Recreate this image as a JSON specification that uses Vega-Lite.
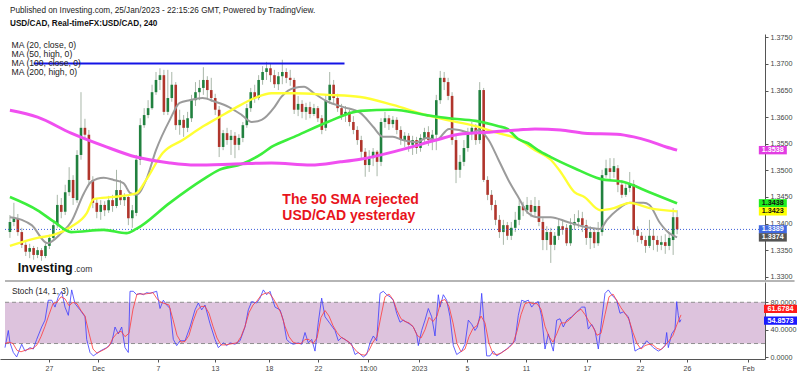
{
"$schema":"https://vega.github.io/schema/vega-lite/v6.json",
"padding":{"left":0,"top":6,"right":0,"bottom":0},
"background":"white",
"bounds":"flush",
"spacing":1,
"resolve":{"scale":{"color":"independent","fill":"independent","strokeWidth":"independent"},"legend":{"color":"independent"}},
"config":{"font":"Liberation Sans","view":{"stroke":null},
 "axis":{"labelFont":"Liberation Sans","grid":false,"domainColor":"#555","tickColor":"#555","labelColor":"#444","labelFontSize":7.2,"tickSize":3,"labelPadding":2,"labelOverlap":false,"labelFlush":false},
 "legend":{"labelFont":"Liberation Sans","titleFont":"Liberation Sans"}},
"title":{"text":"Published on Investing.com, 25/Jan/2023 - 22:15:26 GMT, Powered by TradingView.","subtitle":"USD/CAD, Real-timeFX:USD/CAD, 240","anchor":"start","frame":"group","dx":10,"offset":5,"fontSize":8.2,"fontWeight":"normal","color":"#222","subtitleFontSize":8.2,"subtitleFontWeight":"bold","subtitleColor":"#111","subtitlePadding":5,"font":"Liberation Sans","subtitleFont":"Liberation Sans"},
"datasets":{
"candles":[
{"t":0,"o":1.3384,"h":1.3416,"l":1.3373,"c":1.3403},
{"t":1,"o":1.3403,"h":1.3439,"l":1.3395,"c":1.3410},
{"t":2,"o":1.3410,"h":1.3418,"l":1.3377,"c":1.3384},
{"t":3,"o":1.3384,"h":1.3392,"l":1.3354,"c":1.3360},
{"t":4,"o":1.3360,"h":1.3365,"l":1.3339,"c":1.3347},
{"t":5,"o":1.3347,"h":1.3362,"l":1.3335,"c":1.3354},
{"t":6,"o":1.3354,"h":1.3358,"l":1.3332,"c":1.3341},
{"t":7,"o":1.3341,"h":1.3356,"l":1.3335,"c":1.3350},
{"t":8,"o":1.3350,"h":1.3354,"l":1.3330,"c":1.3339},
{"t":9,"o":1.3339,"h":1.3362,"l":1.3335,"c":1.3358},
{"t":10,"o":1.3358,"h":1.3379,"l":1.3352,"c":1.3373},
{"t":11,"o":1.3373,"h":1.3403,"l":1.3369,"c":1.3397},
{"t":12,"o":1.3397,"h":1.3454,"l":1.3392,"c":1.3435},
{"t":13,"o":1.3435,"h":1.3448,"l":1.3410,"c":1.3422},
{"t":14,"o":1.3422,"h":1.3473,"l":1.3416,"c":1.3459},
{"t":15,"o":1.3459,"h":1.3506,"l":1.3452,"c":1.3482},
{"t":16,"o":1.3482,"h":1.3491,"l":1.3435,"c":1.3448},
{"t":17,"o":1.3444,"h":1.3538,"l":1.3439,"c":1.3529},
{"t":18,"o":1.3529,"h":1.3647,"l":1.3520,"c":1.3580},
{"t":19,"o":1.3580,"h":1.3597,"l":1.3557,"c":1.3567},
{"t":20,"o":1.3567,"h":1.3576,"l":1.3473,"c":1.3482},
{"t":21,"o":1.3482,"h":1.3489,"l":1.3429,"c":1.3439},
{"t":22,"o":1.3439,"h":1.3448,"l":1.3410,"c":1.3422},
{"t":23,"o":1.3422,"h":1.3444,"l":1.3407,"c":1.3435},
{"t":24,"o":1.3435,"h":1.3442,"l":1.3414,"c":1.3425},
{"t":25,"o":1.3425,"h":1.3452,"l":1.3420,"c":1.3444},
{"t":26,"o":1.3444,"h":1.3454,"l":1.3422,"c":1.3433},
{"t":27,"o":1.3433,"h":1.3501,"l":1.3429,"c":1.3463},
{"t":28,"o":1.3463,"h":1.3482,"l":1.3435,"c":1.3444},
{"t":29,"o":1.3444,"h":1.3457,"l":1.3433,"c":1.3450},
{"t":30,"o":1.3450,"h":1.3454,"l":1.3397,"c":1.3410},
{"t":31,"o":1.3410,"h":1.3435,"l":1.3392,"c":1.3425},
{"t":32,"o":1.3420,"h":1.3529,"l":1.3414,"c":1.3520},
{"t":33,"o":1.3520,"h":1.3598,"l":1.3510,"c":1.3585},
{"t":34,"o":1.3585,"h":1.3617,"l":1.3580,"c":1.3604},
{"t":35,"o":1.3604,"h":1.3632,"l":1.3598,"c":1.3617},
{"t":36,"o":1.3617,"h":1.3661,"l":1.3614,"c":1.3647},
{"t":37,"o":1.3647,"h":1.3685,"l":1.3642,"c":1.3670},
{"t":38,"o":1.3670,"h":1.3692,"l":1.3651,"c":1.3679},
{"t":39,"o":1.3679,"h":1.3689,"l":1.3604,"c":1.3610},
{"t":40,"o":1.3610,"h":1.3689,"l":1.3604,"c":1.3636},
{"t":41,"o":1.3636,"h":1.3685,"l":1.3629,"c":1.3661},
{"t":42,"o":1.3661,"h":1.3666,"l":1.3576,"c":1.3585},
{"t":43,"o":1.3585,"h":1.3614,"l":1.3567,"c":1.3595},
{"t":44,"o":1.3595,"h":1.3604,"l":1.3563,"c":1.3580},
{"t":45,"o":1.3580,"h":1.3610,"l":1.3572,"c":1.3598},
{"t":46,"o":1.3598,"h":1.3642,"l":1.3591,"c":1.3632},
{"t":47,"o":1.3632,"h":1.3666,"l":1.3621,"c":1.3647},
{"t":48,"o":1.3647,"h":1.3670,"l":1.3632,"c":1.3655},
{"t":49,"o":1.3655,"h":1.3694,"l":1.3642,"c":1.3670},
{"t":50,"o":1.3670,"h":1.3677,"l":1.3636,"c":1.3651},
{"t":51,"o":1.3651,"h":1.3674,"l":1.3629,"c":1.3636},
{"t":52,"o":1.3636,"h":1.3644,"l":1.3604,"c":1.3614},
{"t":53,"o":1.3614,"h":1.3621,"l":1.3525,"c":1.3544},
{"t":54,"o":1.3544,"h":1.3576,"l":1.3538,"c":1.3570},
{"t":55,"o":1.3570,"h":1.3580,"l":1.3548,"c":1.3557},
{"t":56,"o":1.3557,"h":1.3576,"l":1.3529,"c":1.3565},
{"t":57,"o":1.3565,"h":1.3572,"l":1.3523,"c":1.3548},
{"t":58,"o":1.3548,"h":1.3568,"l":1.3538,"c":1.3561},
{"t":59,"o":1.3561,"h":1.3591,"l":1.3553,"c":1.3585},
{"t":60,"o":1.3585,"h":1.3625,"l":1.3580,"c":1.3617},
{"t":61,"o":1.3617,"h":1.3655,"l":1.3610,"c":1.3647},
{"t":62,"o":1.3647,"h":1.3661,"l":1.3627,"c":1.3636},
{"t":63,"o":1.3636,"h":1.3679,"l":1.3632,"c":1.3670},
{"t":64,"o":1.3670,"h":1.3696,"l":1.3661,"c":1.3685},
{"t":65,"o":1.3685,"h":1.3704,"l":1.3670,"c":1.3692},
{"t":66,"o":1.3692,"h":1.3702,"l":1.3666,"c":1.3679},
{"t":67,"o":1.3679,"h":1.3689,"l":1.3655,"c":1.3662},
{"t":68,"o":1.3662,"h":1.3685,"l":1.3651,"c":1.3677},
{"t":69,"o":1.3677,"h":1.3708,"l":1.3662,"c":1.3685},
{"t":70,"o":1.3685,"h":1.3692,"l":1.3664,"c":1.3674},
{"t":71,"o":1.3674,"h":1.3689,"l":1.3659,"c":1.3670},
{"t":72,"o":1.3670,"h":1.3674,"l":1.3606,"c":1.3614},
{"t":73,"o":1.3614,"h":1.3640,"l":1.3602,"c":1.3625},
{"t":74,"o":1.3625,"h":1.3632,"l":1.3598,"c":1.3610},
{"t":75,"o":1.3610,"h":1.3627,"l":1.3595,"c":1.3619},
{"t":76,"o":1.3619,"h":1.3629,"l":1.3598,"c":1.3606},
{"t":77,"o":1.3606,"h":1.3625,"l":1.3602,"c":1.3617},
{"t":78,"o":1.3617,"h":1.3621,"l":1.3591,"c":1.3598},
{"t":79,"o":1.3598,"h":1.3604,"l":1.3568,"c":1.3576},
{"t":80,"o":1.3580,"h":1.3642,"l":1.3574,"c":1.3632},
{"t":81,"o":1.3632,"h":1.3685,"l":1.3625,"c":1.3661},
{"t":82,"o":1.3661,"h":1.3670,"l":1.3625,"c":1.3636},
{"t":83,"o":1.3636,"h":1.3644,"l":1.3610,"c":1.3617},
{"t":84,"o":1.3617,"h":1.3625,"l":1.3595,"c":1.3604},
{"t":85,"o":1.3604,"h":1.3621,"l":1.3591,"c":1.3610},
{"t":86,"o":1.3610,"h":1.3614,"l":1.3583,"c":1.3591},
{"t":87,"o":1.3591,"h":1.3602,"l":1.3568,"c":1.3576},
{"t":88,"o":1.3576,"h":1.3583,"l":1.3548,"c":1.3557},
{"t":89,"o":1.3557,"h":1.3565,"l":1.3523,"c":1.3535},
{"t":90,"o":1.3535,"h":1.3542,"l":1.3488,"c":1.3510},
{"t":91,"o":1.3510,"h":1.3538,"l":1.3497,"c":1.3523},
{"t":92,"o":1.3523,"h":1.3542,"l":1.3508,"c":1.3535},
{"t":93,"o":1.3535,"h":1.3538,"l":1.3489,"c":1.3516},
{"t":94,"o":1.3516,"h":1.3598,"l":1.3508,"c":1.3591},
{"t":95,"o":1.3591,"h":1.3610,"l":1.3580,"c":1.3598},
{"t":96,"o":1.3598,"h":1.3604,"l":1.3576,"c":1.3587},
{"t":97,"o":1.3587,"h":1.3602,"l":1.3580,"c":1.3595},
{"t":98,"o":1.3595,"h":1.3600,"l":1.3568,"c":1.3576},
{"t":99,"o":1.3576,"h":1.3583,"l":1.3548,"c":1.3557},
{"t":100,"o":1.3557,"h":1.3572,"l":1.3544,"c":1.3565},
{"t":101,"o":1.3565,"h":1.3570,"l":1.3535,"c":1.3548},
{"t":102,"o":1.3548,"h":1.3565,"l":1.3529,"c":1.3557},
{"t":103,"o":1.3557,"h":1.3563,"l":1.3531,"c":1.3542},
{"t":104,"o":1.3542,"h":1.3568,"l":1.3535,"c":1.3561},
{"t":105,"o":1.3561,"h":1.3580,"l":1.3553,"c":1.3572},
{"t":106,"o":1.3572,"h":1.3583,"l":1.3546,"c":1.3557},
{"t":107,"o":1.3557,"h":1.3576,"l":1.3538,"c":1.3567},
{"t":108,"o":1.3567,"h":1.3642,"l":1.3538,"c":1.3632},
{"t":109,"o":1.3632,"h":1.3687,"l":1.3625,"c":1.3674},
{"t":110,"o":1.3674,"h":1.3685,"l":1.3651,"c":1.3666},
{"t":111,"o":1.3666,"h":1.3674,"l":1.3632,"c":1.3640},
{"t":112,"o":1.3640,"h":1.3647,"l":1.3548,"c":1.3557},
{"t":113,"o":1.3557,"h":1.3565,"l":1.3476,"c":1.3501},
{"t":114,"o":1.3501,"h":1.3529,"l":1.3486,"c":1.3516},
{"t":115,"o":1.3516,"h":1.3557,"l":1.3508,"c":1.3542},
{"t":116,"o":1.3542,"h":1.3580,"l":1.3535,"c":1.3572},
{"t":117,"o":1.3572,"h":1.3591,"l":1.3557,"c":1.3580},
{"t":118,"o":1.3580,"h":1.3587,"l":1.3548,"c":1.3557},
{"t":119,"o":1.3557,"h":1.3666,"l":1.3550,"c":1.3651},
{"t":120,"o":1.3651,"h":1.3655,"l":1.3478,"c":1.3482},
{"t":121,"o":1.3482,"h":1.3489,"l":1.3444,"c":1.3454},
{"t":122,"o":1.3454,"h":1.3463,"l":1.3425,"c":1.3435},
{"t":123,"o":1.3435,"h":1.3444,"l":1.3397,"c":1.3407},
{"t":124,"o":1.3407,"h":1.3416,"l":1.3373,"c":1.3384},
{"t":125,"o":1.3384,"h":1.3407,"l":1.3360,"c":1.3397},
{"t":126,"o":1.3397,"h":1.3403,"l":1.3369,"c":1.3377},
{"t":127,"o":1.3377,"h":1.3403,"l":1.3369,"c":1.3392},
{"t":128,"o":1.3392,"h":1.3422,"l":1.3384,"c":1.3407},
{"t":129,"o":1.3407,"h":1.3444,"l":1.3397,"c":1.3433},
{"t":130,"o":1.3433,"h":1.3441,"l":1.3414,"c":1.3425},
{"t":131,"o":1.3425,"h":1.3450,"l":1.3418,"c":1.3435},
{"t":132,"o":1.3435,"h":1.3444,"l":1.3412,"c":1.3422},
{"t":133,"o":1.3422,"h":1.3450,"l":1.3414,"c":1.3433},
{"t":134,"o":1.3433,"h":1.3444,"l":1.3395,"c":1.3403},
{"t":135,"o":1.3403,"h":1.3410,"l":1.3350,"c":1.3369},
{"t":136,"o":1.3369,"h":1.3395,"l":1.3350,"c":1.3384},
{"t":137,"o":1.3384,"h":1.3392,"l":1.3326,"c":1.3360},
{"t":138,"o":1.3360,"h":1.3384,"l":1.3350,"c":1.3377},
{"t":139,"o":1.3377,"h":1.3410,"l":1.3369,"c":1.3395},
{"t":140,"o":1.3395,"h":1.3407,"l":1.3379,"c":1.3388},
{"t":141,"o":1.3392,"h":1.3399,"l":1.3358,"c":1.3363},
{"t":142,"o":1.3363,"h":1.3410,"l":1.3358,"c":1.3397},
{"t":143,"o":1.3397,"h":1.3418,"l":1.3388,"c":1.3403},
{"t":144,"o":1.3403,"h":1.3425,"l":1.3392,"c":1.3410},
{"t":145,"o":1.3410,"h":1.3422,"l":1.3384,"c":1.3397},
{"t":146,"o":1.3397,"h":1.3407,"l":1.3360,"c":1.3373},
{"t":147,"o":1.3373,"h":1.3395,"l":1.3352,"c":1.3384},
{"t":148,"o":1.3384,"h":1.3392,"l":1.3354,"c":1.3363},
{"t":149,"o":1.3363,"h":1.3403,"l":1.3358,"c":1.3384},
{"t":150,"o":1.3384,"h":1.3501,"l":1.3377,"c":1.3491},
{"t":151,"o":1.3491,"h":1.3520,"l":1.3486,"c":1.3504},
{"t":152,"o":1.3504,"h":1.3523,"l":1.3482,"c":1.3497},
{"t":153,"o":1.3497,"h":1.3523,"l":1.3486,"c":1.3508},
{"t":154,"o":1.3504,"h":1.3510,"l":1.3459,"c":1.3473},
{"t":155,"o":1.3473,"h":1.3482,"l":1.3448,"c":1.3454},
{"t":156,"o":1.3454,"h":1.3474,"l":1.3450,"c":1.3467},
{"t":157,"o":1.3467,"h":1.3497,"l":1.3459,"c":1.3474},
{"t":158,"o":1.3474,"h":1.3482,"l":1.3379,"c":1.3388},
{"t":159,"o":1.3388,"h":1.3395,"l":1.3365,"c":1.3377},
{"t":160,"o":1.3377,"h":1.3384,"l":1.3362,"c":1.3369},
{"t":161,"o":1.3369,"h":1.3377,"l":1.3345,"c":1.3358},
{"t":162,"o":1.3358,"h":1.3407,"l":1.3354,"c":1.3377},
{"t":163,"o":1.3377,"h":1.3388,"l":1.3350,"c":1.3369},
{"t":164,"o":1.3369,"h":1.3377,"l":1.3347,"c":1.3360},
{"t":165,"o":1.3360,"h":1.3377,"l":1.3350,"c":1.3365},
{"t":166,"o":1.3365,"h":1.3380,"l":1.3343,"c":1.3358},
{"t":167,"o":1.3358,"h":1.3384,"l":1.3350,"c":1.3373},
{"t":168,"o":1.3369,"h":1.3429,"l":1.3341,"c":1.3412},
{"t":169,"o":1.3412,"h":1.3425,"l":1.3380,"c":1.3389}
],
"ma":[
{"m":"MA20","t":0,"v":1.3412},{"m":"MA20","t":3,"v":1.3407},{"m":"MA20","t":5.5,"v":1.3397},{"m":"MA20","t":9.5,"v":1.3363},{"m":"MA20","t":13,"v":1.3382},{"m":"MA20","t":15.5,"v":1.3403},{"m":"MA20","t":18.75,"v":1.3457},{"m":"MA20","t":20.5,"v":1.3478},{"m":"MA20","t":23.75,"v":1.3486},{"m":"MA20","t":26.25,"v":1.3482},{"m":"MA20","t":28.75,"v":1.3476},{"m":"MA20","t":30.5,"v":1.3457},{"m":"MA20","t":32,"v":1.3454},{"m":"MA20","t":34.5,"v":1.3482},{"m":"MA20","t":37,"v":1.3538},{"m":"MA20","t":40.5,"v":1.3595},{"m":"MA20","t":43,"v":1.3627},{"m":"MA20","t":45.5,"v":1.3632},{"m":"MA20","t":48.75,"v":1.3636},{"m":"MA20","t":52,"v":1.3629},{"m":"MA20","t":55.5,"v":1.3619},{"m":"MA20","t":58.75,"v":1.3604},{"m":"MA20","t":61.25,"v":1.3591},{"m":"MA20","t":63.75,"v":1.3595},{"m":"MA20","t":67,"v":1.3619},{"m":"MA20","t":68.75,"v":1.3638},{"m":"MA20","t":72,"v":1.3655},{"m":"MA20","t":74.5,"v":1.3657},{"m":"MA20","t":77,"v":1.3645},{"m":"MA20","t":80.5,"v":1.3629},{"m":"MA20","t":84.5,"v":1.3619},{"m":"MA20","t":88.75,"v":1.3608},{"m":"MA20","t":92,"v":1.3582},{"m":"MA20","t":94.5,"v":1.3563},{"m":"MA20","t":97,"v":1.3563},{"m":"MA20","t":99.5,"v":1.3557},{"m":"MA20","t":103,"v":1.3553},{"m":"MA20","t":105.5,"v":1.3561},{"m":"MA20","t":108,"v":1.3557},{"m":"MA20","t":111.25,"v":1.3578},{"m":"MA20","t":113.75,"v":1.3576},{"m":"MA20","t":117,"v":1.3570},{"m":"MA20","t":118.75,"v":1.3576},{"m":"MA20","t":121.25,"v":1.3557},{"m":"MA20","t":123.75,"v":1.3520},{"m":"MA20","t":126.25,"v":1.3482},{"m":"MA20","t":128.75,"v":1.3450},{"m":"MA20","t":131.25,"v":1.3420},{"m":"MA20","t":133.75,"v":1.3412},{"m":"MA20","t":137,"v":1.3412},{"m":"MA20","t":141.25,"v":1.3403},{"m":"MA20","t":145.5,"v":1.3394},{"m":"MA20","t":149.5,"v":1.3390},{"m":"MA20","t":151.25,"v":1.3407},{"m":"MA20","t":153.75,"v":1.3425},{"m":"MA20","t":157,"v":1.3439},{"m":"MA20","t":160.5,"v":1.3439},{"m":"MA20","t":162,"v":1.3435},{"m":"MA20","t":164.5,"v":1.3403},{"m":"MA20","t":167,"v":1.3382},{"m":"MA20","t":169,"v":1.3374},
{"m":"MA50","t":0,"v":1.3358},{"m":"MA50","t":7,"v":1.3373},{"m":"MA50","t":11.25,"v":1.3379},{"m":"MA50","t":15.5,"v":1.3394},{"m":"MA50","t":19.5,"v":1.3420},{"m":"MA50","t":21.25,"v":1.3446},{"m":"MA50","t":26.25,"v":1.3450},{"m":"MA50","t":32,"v":1.3457},{"m":"MA50","t":34.5,"v":1.3482},{"m":"MA50","t":38.75,"v":1.3533},{"m":"MA50","t":43.75,"v":1.3557},{"m":"MA50","t":48.75,"v":1.3582},{"m":"MA50","t":53,"v":1.3600},{"m":"MA50","t":57,"v":1.3617},{"m":"MA50","t":62,"v":1.3636},{"m":"MA50","t":66.25,"v":1.3645},{"m":"MA50","t":72,"v":1.3645},{"m":"MA50","t":80.5,"v":1.3642},{"m":"MA50","t":88.75,"v":1.3638},{"m":"MA50","t":97,"v":1.3623},{"m":"MA50","t":105.5,"v":1.3604},{"m":"MA50","t":110.5,"v":1.3595},{"m":"MA50","t":118,"v":1.3583},{"m":"MA50","t":123.75,"v":1.3570},{"m":"MA50","t":128.75,"v":1.3559},{"m":"MA50","t":133,"v":1.3538},{"m":"MA50","t":137,"v":1.3520},{"m":"MA50","t":139.5,"v":1.3497},{"m":"MA50","t":143,"v":1.3459},{"m":"MA50","t":145.5,"v":1.3450},{"m":"MA50","t":149.5,"v":1.3425},{"m":"MA50","t":153,"v":1.3429},{"m":"MA50","t":157,"v":1.3439},{"m":"MA50","t":162,"v":1.3429},{"m":"MA50","t":169,"v":1.3423},
{"m":"MA100","t":0,"v":1.3450},{"m":"MA100","t":7,"v":1.3425},{"m":"MA100","t":11.25,"v":1.3403},{"m":"MA100","t":15.5,"v":1.3384},{"m":"MA100","t":23.75,"v":1.3388},{"m":"MA100","t":29.5,"v":1.3382},{"m":"MA100","t":32,"v":1.3390},{"m":"MA100","t":40.5,"v":1.3439},{"m":"MA100","t":48.75,"v":1.3482},{"m":"MA100","t":53,"v":1.3501},{"m":"MA100","t":58.75,"v":1.3512},{"m":"MA100","t":63.75,"v":1.3531},{"m":"MA100","t":66.25,"v":1.3544},{"m":"MA100","t":72,"v":1.3563},{"m":"MA100","t":80.5,"v":1.3591},{"m":"MA100","t":88.75,"v":1.3612},{"m":"MA100","t":97,"v":1.3614},{"m":"MA100","t":105.5,"v":1.3604},{"m":"MA100","t":111.25,"v":1.3598},{"m":"MA100","t":118,"v":1.3593},{"m":"MA100","t":123.75,"v":1.3583},{"m":"MA100","t":126,"v":1.3578},{"m":"MA100","t":128.75,"v":1.3559},{"m":"MA100","t":131.25,"v":1.3551},{"m":"MA100","t":133.75,"v":1.3538},{"m":"MA100","t":137,"v":1.3525},{"m":"MA100","t":143,"v":1.3504},{"m":"MA100","t":149.5,"v":1.3484},{"m":"MA100","t":155.5,"v":1.3478},{"m":"MA100","t":162,"v":1.3459},{"m":"MA100","t":169,"v":1.3438},
{"m":"MA200","t":0,"v":1.3613},{"m":"MA200","t":7,"v":1.3600},{"m":"MA200","t":15.5,"v":1.3570},{"m":"MA200","t":23.75,"v":1.3546},{"m":"MA200","t":32,"v":1.3525},{"m":"MA200","t":40.5,"v":1.3514},{"m":"MA200","t":47,"v":1.3510},{"m":"MA200","t":57,"v":1.3512},{"m":"MA200","t":66.25,"v":1.3514},{"m":"MA200","t":76.25,"v":1.3510},{"m":"MA200","t":83.75,"v":1.3516},{"m":"MA200","t":88.75,"v":1.3521},{"m":"MA200","t":98.75,"v":1.3538},{"m":"MA200","t":108,"v":1.3557},{"m":"MA200","t":113.75,"v":1.3568},{"m":"MA200","t":122,"v":1.3572},{"m":"MA200","t":128.75,"v":1.3576},{"m":"MA200","t":133,"v":1.3578},{"m":"MA200","t":139.5,"v":1.3576},{"m":"MA200","t":145.5,"v":1.3570},{"m":"MA200","t":153.75,"v":1.3568},{"m":"MA200","t":158,"v":1.3563},{"m":"MA200","t":162,"v":1.3555},{"m":"MA200","t":166.25,"v":1.3544},{"m":"MA200","t":169,"v":1.3538}
],
"mlab":[{"k":"MA200","v":1.3538},{"k":"MA100","v":1.3438},{"k":"MA50","v":1.3423},{"k":"Last","v":1.3389},{"k":"MA20","v":1.3374}],
"stoch":[
{"s":"K","t":0,"v":14},{"s":"K","t":0.83,"v":39},{"s":"K","t":1.25,"v":21},{"s":"K","t":2.08,"v":7},{"s":"K","t":2.92,"v":0.5},{"s":"K","t":4.17,"v":19},{"s":"K","t":5,"v":9},{"s":"K","t":6.25,"v":14},{"s":"K","t":7.08,"v":12},{"s":"K","t":7.92,"v":26},{"s":"K","t":9.17,"v":44},{"s":"K","t":10,"v":54},{"s":"K","t":10.83,"v":83},{"s":"K","t":11.67,"v":83},{"s":"K","t":12.5,"v":73},{"s":"K","t":13.33,"v":88},{"s":"K","t":14.17,"v":96},{"s":"K","t":15,"v":73},{"s":"K","t":15.83,"v":61},{"s":"K","t":16.67,"v":98},{"s":"K","t":17.5,"v":78},{"s":"K","t":18.75,"v":69},{"s":"K","t":20,"v":59},{"s":"K","t":20.42,"v":26},{"s":"K","t":21.25,"v":7},{"s":"K","t":22.08,"v":2},{"s":"K","t":23.75,"v":9},{"s":"K","t":25.42,"v":14},{"s":"K","t":26.67,"v":21},{"s":"K","t":27.5,"v":44},{"s":"K","t":28.33,"v":34},{"s":"K","t":29.17,"v":44},{"s":"K","t":30,"v":14},{"s":"K","t":30.83,"v":7},{"s":"K","t":31.25,"v":96},{"s":"K","t":32.08,"v":96},{"s":"K","t":32.92,"v":91},{"s":"K","t":33.75,"v":93},{"s":"K","t":34.58,"v":91},{"s":"K","t":35.42,"v":94},{"s":"K","t":36.25,"v":93},{"s":"K","t":37.92,"v":96},{"s":"K","t":38.75,"v":71},{"s":"K","t":39.58,"v":83},{"s":"K","t":40.42,"v":76},{"s":"K","t":41.25,"v":71},{"s":"K","t":42.08,"v":26},{"s":"K","t":42.92,"v":17},{"s":"K","t":43.75,"v":24},{"s":"K","t":45,"v":24},{"s":"K","t":46.25,"v":44},{"s":"K","t":47.5,"v":69},{"s":"K","t":48.33,"v":79},{"s":"K","t":49.17,"v":69},{"s":"K","t":50,"v":76},{"s":"K","t":51.25,"v":49},{"s":"K","t":52.5,"v":26},{"s":"K","t":53.33,"v":14},{"s":"K","t":54.58,"v":21},{"s":"K","t":55.42,"v":17},{"s":"K","t":56.25,"v":21},{"s":"K","t":57.5,"v":19},{"s":"K","t":58.75,"v":24},{"s":"K","t":60,"v":44},{"s":"K","t":60.83,"v":69},{"s":"K","t":61.67,"v":81},{"s":"K","t":62.92,"v":79},{"s":"K","t":63.75,"v":86},{"s":"K","t":64.58,"v":98},{"s":"K","t":65.42,"v":91},{"s":"K","t":66.25,"v":96},{"s":"K","t":67.5,"v":73},{"s":"K","t":68.75,"v":69},{"s":"K","t":69.58,"v":54},{"s":"K","t":70.42,"v":26},{"s":"K","t":71.25,"v":21},{"s":"K","t":72.08,"v":19},{"s":"K","t":73.33,"v":21},{"s":"K","t":74.17,"v":19},{"s":"K","t":75,"v":36},{"s":"K","t":75.83,"v":21},{"s":"K","t":76.67,"v":26},{"s":"K","t":77.5,"v":9},{"s":"K","t":78.33,"v":51},{"s":"K","t":79.17,"v":86},{"s":"K","t":80,"v":59},{"s":"K","t":81.25,"v":49},{"s":"K","t":82.5,"v":39},{"s":"K","t":83.33,"v":24},{"s":"K","t":84.17,"v":29},{"s":"K","t":85.42,"v":24},{"s":"K","t":86.67,"v":19},{"s":"K","t":87.5,"v":4},{"s":"K","t":88.33,"v":7},{"s":"K","t":89.58,"v":0.5},{"s":"K","t":90.42,"v":4},{"s":"K","t":91.25,"v":21},{"s":"K","t":92.08,"v":31},{"s":"K","t":92.92,"v":24},{"s":"K","t":93.75,"v":93},{"s":"K","t":94.58,"v":96},{"s":"K","t":95.42,"v":91},{"s":"K","t":96.25,"v":88},{"s":"K","t":97.08,"v":83},{"s":"K","t":97.92,"v":64},{"s":"K","t":98.75,"v":51},{"s":"K","t":99.58,"v":54},{"s":"K","t":100.42,"v":51},{"s":"K","t":101.25,"v":48},{"s":"K","t":102.08,"v":44},{"s":"K","t":102.92,"v":34},{"s":"K","t":103.33,"v":17},{"s":"K","t":104.17,"v":39},{"s":"K","t":105,"v":54},{"s":"K","t":105.83,"v":71},{"s":"K","t":106.67,"v":59},{"s":"K","t":107.5,"v":31},{"s":"K","t":108.33,"v":91},{"s":"K","t":108.75,"v":73},{"s":"K","t":109.58,"v":91},{"s":"K","t":110.42,"v":83},{"s":"K","t":111.25,"v":59},{"s":"K","t":112.08,"v":17},{"s":"K","t":112.92,"v":4},{"s":"K","t":114.17,"v":9},{"s":"K","t":115,"v":19},{"s":"K","t":115.83,"v":54},{"s":"K","t":116.67,"v":48},{"s":"K","t":117.5,"v":39},{"s":"K","t":118.08,"v":44},{"s":"K","t":118.75,"v":61},{"s":"K","t":119.17,"v":93},{"s":"K","t":119.75,"v":51},{"s":"K","t":120.42,"v":2},{"s":"K","t":121.25,"v":2},{"s":"K","t":122.08,"v":9},{"s":"K","t":122.92,"v":2},{"s":"K","t":124.17,"v":7},{"s":"K","t":125.42,"v":12},{"s":"K","t":126.67,"v":19},{"s":"K","t":127.5,"v":24},{"s":"K","t":128.33,"v":61},{"s":"K","t":129.17,"v":83},{"s":"K","t":130,"v":81},{"s":"K","t":130.83,"v":83},{"s":"K","t":131.67,"v":73},{"s":"K","t":132.5,"v":79},{"s":"K","t":133.33,"v":81},{"s":"K","t":134.17,"v":59},{"s":"K","t":135,"v":12},{"s":"K","t":135.83,"v":34},{"s":"K","t":137.08,"v":9},{"s":"K","t":137.92,"v":54},{"s":"K","t":138.75,"v":56},{"s":"K","t":139.58,"v":44},{"s":"K","t":140.42,"v":54},{"s":"K","t":141.67,"v":59},{"s":"K","t":142.92,"v":66},{"s":"K","t":144.17,"v":73},{"s":"K","t":145,"v":73},{"s":"K","t":145.83,"v":41},{"s":"K","t":146.67,"v":48},{"s":"K","t":147.5,"v":39},{"s":"K","t":148.33,"v":12},{"s":"K","t":149.17,"v":54},{"s":"K","t":150,"v":93},{"s":"K","t":150.83,"v":98},{"s":"K","t":151.67,"v":91},{"s":"K","t":152.92,"v":83},{"s":"K","t":153.75,"v":64},{"s":"K","t":154.58,"v":66},{"s":"K","t":155.83,"v":59},{"s":"K","t":156.67,"v":39},{"s":"K","t":157.5,"v":9},{"s":"K","t":158.33,"v":12},{"s":"K","t":159.17,"v":14},{"s":"K","t":160.42,"v":24},{"s":"K","t":161.25,"v":19},{"s":"K","t":162.08,"v":14},{"s":"K","t":163.33,"v":9},{"s":"K","t":164.17,"v":12},{"s":"K","t":165,"v":17},{"s":"K","t":165.42,"v":36},{"s":"K","t":165.83,"v":14},{"s":"K","t":166.67,"v":34},{"s":"K","t":167.5,"v":41},{"s":"K","t":167.92,"v":81},{"s":"K","t":168.33,"v":61},{"s":"K","t":168.67,"v":51},{"s":"K","t":169,"v":54.8573},
{"s":"D","t":0,"v":20},{"s":"D","t":1,"v":22},{"s":"D","t":2,"v":20},{"s":"D","t":3,"v":10},{"s":"D","t":4,"v":8},{"s":"D","t":5,"v":10},{"s":"D","t":6,"v":12},{"s":"D","t":7,"v":13},{"s":"D","t":8,"v":18},{"s":"D","t":9,"v":30},{"s":"D","t":10,"v":45},{"s":"D","t":11,"v":62},{"s":"D","t":12,"v":78},{"s":"D","t":13,"v":80},{"s":"D","t":14,"v":88},{"s":"D","t":15,"v":85},{"s":"D","t":16,"v":75},{"s":"D","t":17,"v":80},{"s":"D","t":18,"v":78},{"s":"D","t":19,"v":68},{"s":"D","t":20,"v":60},{"s":"D","t":21,"v":35},{"s":"D","t":22,"v":12},{"s":"D","t":23,"v":6},{"s":"D","t":24,"v":9},{"s":"D","t":25,"v":12},{"s":"D","t":26,"v":16},{"s":"D","t":27,"v":28},{"s":"D","t":28,"v":35},{"s":"D","t":29,"v":38},{"s":"D","t":30,"v":30},{"s":"D","t":31,"v":35},{"s":"D","t":32,"v":70},{"s":"D","t":33,"v":92},{"s":"D","t":34,"v":92},{"s":"D","t":35,"v":92},{"s":"D","t":36,"v":93},{"s":"D","t":37,"v":94},{"s":"D","t":38,"v":85},{"s":"D","t":39,"v":80},{"s":"D","t":40,"v":78},{"s":"D","t":41,"v":76},{"s":"D","t":42,"v":55},{"s":"D","t":43,"v":32},{"s":"D","t":44,"v":22},{"s":"D","t":45,"v":23},{"s":"D","t":46,"v":32},{"s":"D","t":47,"v":52},{"s":"D","t":48,"v":68},{"s":"D","t":49,"v":74},{"s":"D","t":50,"v":74},{"s":"D","t":51,"v":64},{"s":"D","t":52,"v":45},{"s":"D","t":53,"v":28},{"s":"D","t":54,"v":18},{"s":"D","t":55,"v":18},{"s":"D","t":56,"v":19},{"s":"D","t":57,"v":20},{"s":"D","t":58,"v":21},{"s":"D","t":59,"v":30},{"s":"D","t":60,"v":45},{"s":"D","t":61,"v":65},{"s":"D","t":62,"v":76},{"s":"D","t":63,"v":82},{"s":"D","t":64,"v":90},{"s":"D","t":65,"v":93},{"s":"D","t":66,"v":94},{"s":"D","t":67,"v":86},{"s":"D","t":68,"v":76},{"s":"D","t":69,"v":64},{"s":"D","t":70,"v":45},{"s":"D","t":71,"v":30},{"s":"D","t":72,"v":22},{"s":"D","t":73,"v":20},{"s":"D","t":74,"v":20},{"s":"D","t":75,"v":26},{"s":"D","t":76,"v":26},{"s":"D","t":77,"v":20},{"s":"D","t":78,"v":28},{"s":"D","t":79,"v":58},{"s":"D","t":80,"v":68},{"s":"D","t":81,"v":60},{"s":"D","t":82,"v":46},{"s":"D","t":83,"v":36},{"s":"D","t":84,"v":29},{"s":"D","t":85,"v":26},{"s":"D","t":86,"v":22},{"s":"D","t":87,"v":15},{"s":"D","t":88,"v":8},{"s":"D","t":89,"v":4},{"s":"D","t":90,"v":3},{"s":"D","t":91,"v":10},{"s":"D","t":92,"v":22},{"s":"D","t":93,"v":30},{"s":"D","t":94,"v":60},{"s":"D","t":95,"v":88},{"s":"D","t":96,"v":92},{"s":"D","t":97,"v":84},{"s":"D","t":98,"v":68},{"s":"D","t":99,"v":56},{"s":"D","t":100,"v":52},{"s":"D","t":101,"v":50},{"s":"D","t":102,"v":45},{"s":"D","t":103,"v":32},{"s":"D","t":104,"v":28},{"s":"D","t":105,"v":40},{"s":"D","t":106,"v":58},{"s":"D","t":107,"v":52},{"s":"D","t":108,"v":60},{"s":"D","t":109,"v":82},{"s":"D","t":110,"v":84},{"s":"D","t":111,"v":74},{"s":"D","t":112,"v":50},{"s":"D","t":113,"v":20},{"s":"D","t":114,"v":8},{"s":"D","t":115,"v":12},{"s":"D","t":116,"v":30},{"s":"D","t":117,"v":42},{"s":"D","t":118,"v":46},{"s":"D","t":119,"v":60},{"s":"D","t":120,"v":50},{"s":"D","t":121,"v":20},{"s":"D","t":122,"v":5},{"s":"D","t":123,"v":4},{"s":"D","t":124,"v":6},{"s":"D","t":125,"v":10},{"s":"D","t":126,"v":14},{"s":"D","t":127,"v":20},{"s":"D","t":128,"v":38},{"s":"D","t":129,"v":62},{"s":"D","t":130,"v":78},{"s":"D","t":131,"v":80},{"s":"D","t":132,"v":78},{"s":"D","t":133,"v":78},{"s":"D","t":134,"v":70},{"s":"D","t":135,"v":45},{"s":"D","t":136,"v":30},{"s":"D","t":137,"v":22},{"s":"D","t":138,"v":35},{"s":"D","t":139,"v":50},{"s":"D","t":140,"v":50},{"s":"D","t":141,"v":54},{"s":"D","t":142,"v":60},{"s":"D","t":143,"v":66},{"s":"D","t":144,"v":70},{"s":"D","t":145,"v":62},{"s":"D","t":146,"v":52},{"s":"D","t":147,"v":44},{"s":"D","t":148,"v":32},{"s":"D","t":149,"v":35},{"s":"D","t":150,"v":62},{"s":"D","t":151,"v":88},{"s":"D","t":152,"v":92},{"s":"D","t":153,"v":82},{"s":"D","t":154,"v":72},{"s":"D","t":155,"v":64},{"s":"D","t":156,"v":55},{"s":"D","t":157,"v":36},{"s":"D","t":158,"v":20},{"s":"D","t":159,"v":12},{"s":"D","t":160,"v":17},{"s":"D","t":161,"v":19},{"s":"D","t":162,"v":18},{"s":"D","t":163,"v":13},{"s":"D","t":164,"v":11},{"s":"D","t":165,"v":17},{"s":"D","t":166,"v":24},{"s":"D","t":167,"v":32},{"s":"D","t":168,"v":48},{"s":"D","t":169,"v":61.6784}
]
},
"vconcat":[
{
"width":765,"height":247,
"layer":[
{"data":{"name":"candles"},"mark":{"type":"rule","color":"#a9b7a9","strokeWidth":1},
 "encoding":{"x":{"field":"t","type":"quantitative","scale":{"domain":[-1.25,190],"nice":false,"zero":false},"axis":null},
  "y":{"field":"l","type":"quantitative","scale":{"domain":[1.3292,1.37564],"nice":false,"zero":false},"axis":{"orient":"right","values":[1.33,1.335,1.34,1.345,1.35,1.355,1.36,1.365,1.37,1.375],"format":".4f","title":null,"labelOverlap":false}},
  "y2":{"field":"h"}}},
{"data":{"name":"candles"},"mark":{"type":"bar","width":2.6},
 "encoding":{"x":{"field":"t","type":"quantitative","axis":null},
  "y":{"field":"o","type":"quantitative","axis":{"orient":"right","values":[1.33,1.335,1.34,1.345,1.35,1.355,1.36,1.365,1.37,1.375],"format":".4f","title":null,"labelOverlap":false}},"y2":{"field":"c"},
  "color":{"condition":{"test":"datum.c >= datum.o","value":"#21813f"},"value":"#b0352c"}}},
{"data":{"values":[{}]},"mark":{"type":"rule","color":"#b5b5b5","strokeWidth":2},
 "encoding":{"x":{"datum":-1.25,"type":"quantitative","axis":null},"x2":{"datum":198.75},"y":{"datum":1.3292,"type":"quantitative","axis":{"orient":"right","values":[1.33,1.335,1.34,1.345,1.35,1.355,1.36,1.365,1.37,1.375],"format":".4f","title":null,"labelOverlap":false}}}},
{"data":{"values":[{}]},"mark":{"type":"rule","color":"#3d5fd9","strokeDash":[1,2],"strokeWidth":1},
 "encoding":{"x":{"datum":-1.25,"type":"quantitative","axis":null},"x2":{"datum":190},"y":{"datum":1.3389,"type":"quantitative","axis":{"orient":"right","values":[1.33,1.335,1.34,1.345,1.35,1.355,1.36,1.365,1.37,1.375],"format":".4f","title":null,"labelOverlap":false}}}},
{"data":{"values":[{}]},"mark":{"type":"rule","color":"#1414e6","strokeWidth":2},
 "encoding":{"x":{"datum":6,"type":"quantitative","axis":null},"x2":{"datum":84.75},"y":{"datum":1.3701,"type":"quantitative","axis":{"orient":"right","values":[1.33,1.335,1.34,1.345,1.35,1.355,1.36,1.365,1.37,1.375],"format":".4f","title":null,"labelOverlap":false}}}},
{"data":{"name":"ma"},"mark":{"type":"line","interpolate":"monotone"},
 "encoding":{"x":{"field":"t","type":"quantitative","axis":null},"y":{"field":"v","type":"quantitative","axis":{"orient":"right","values":[1.33,1.335,1.34,1.345,1.35,1.355,1.36,1.365,1.37,1.375],"format":".4f","title":null,"labelOverlap":false}},
  "color":{"field":"m","type":"nominal","scale":{"domain":["MA20","MA50","MA100","MA200"],"range":["#9b9b9b","#ffff33","#3cee3c","#f04ff0"]},
   "legend":{"orient":"none","legendX":3,"legendY":7,"title":null,"symbolSize":0,"symbolOpacity":0,"symbolStrokeWidth":0,"labelOffset":0,"labelFontSize":8.6,"labelColor":"#222","rowPadding":0,"padding":0,
    "labelExpr":"{'MA20':'MA (20, close, 0)','MA50':'MA (50, high, 0)','MA100':'MA (100, close, 0)','MA200':'MA (200, high, 0)'}[datum.label]"}},
  "strokeWidth":{"field":"m","type":"ordinal","scale":{"domain":["MA20","MA50","MA100","MA200"],"range":[2,3,2,2]},"legend":null}}},
{"data":{"name":"mlab"},"mark":{"type":"point","shape":"M-1,-0.3L1,-0.3L1,0.3L-1,0.3Z","size":784,"filled":true,"opacity":1,"strokeWidth":0},
 "encoding":{"x":{"datum":193.25,"type":"quantitative","axis":null},"y":{"field":"v","type":"quantitative","axis":{"orient":"right","values":[1.33,1.335,1.34,1.345,1.35,1.355,1.36,1.365,1.37,1.375],"format":".4f","title":null,"labelOverlap":false}},
  "fill":{"field":"k","type":"nominal","scale":{"domain":["MA200","MA100","MA50","Last","MA20"],"range":["#e23de2","#1fee1f","#ffff00","#4169e1","#555555"]},"legend":null}}},
{"data":{"name":"mlab"},"mark":{"type":"text","fontSize":7.2,"fontWeight":"bold","align":"center","baseline":"middle"},
 "encoding":{"x":{"datum":193.25,"type":"quantitative","axis":null},"y":{"field":"v","type":"quantitative","axis":{"orient":"right","values":[1.33,1.335,1.34,1.345,1.35,1.355,1.36,1.365,1.37,1.375],"format":".4f","title":null,"labelOverlap":false}},
  "text":{"field":"v","type":"quantitative","format":".4f"},
  "color":{"condition":{"test":"datum.k == 'MA100' || datum.k == 'MA50'","value":"#111111"},"value":"#ffffff"}}},
{"data":{"values":[{}]},"mark":{"type":"text","text":["The 50 SMA rejected","USD/CAD yesterday"],"align":"left","baseline":"top","fontSize":14,"fontWeight":"bold","color":"#e8141c","lineHeight":16},
 "encoding":{"x":{"datum":69,"type":"quantitative","axis":null},"y":{"datum":1.3458,"type":"quantitative","axis":{"orient":"right","values":[1.33,1.335,1.34,1.345,1.35,1.355,1.36,1.365,1.37,1.375],"format":".4f","title":null,"labelOverlap":false}}}},
{"data":{"values":[{}]},"mark":{"type":"text","text":"Investing","align":"left","baseline":"alphabetic","fontSize":12.5,"fontWeight":"bold","color":"#111"},
 "encoding":{"x":{"datum":2,"type":"quantitative","axis":null},"y":{"datum":1.3309,"type":"quantitative","axis":{"orient":"right","values":[1.33,1.335,1.34,1.345,1.35,1.355,1.36,1.365,1.37,1.375],"format":".4f","title":null,"labelOverlap":false}}}},
{"data":{"values":[{}]},"mark":{"type":"text","text":".com","align":"left","baseline":"alphabetic","fontSize":8.5,"color":"#333"},
 "encoding":{"x":{"datum":16.2,"type":"quantitative","axis":null},"y":{"datum":1.3309,"type":"quantitative","axis":{"orient":"right","values":[1.33,1.335,1.34,1.345,1.35,1.355,1.36,1.365,1.37,1.375],"format":".4f","title":null,"labelOverlap":false}}}}
]
},
{
"width":765,"height":77,
"layer":[
{"data":{"values":[{}]},"mark":{"type":"rect","color":"#ddc3dd"},
 "encoding":{"x":{"datum":0,"type":"quantitative","scale":{"domain":[-1.25,190],"nice":false,"zero":false},
   "axis":{"orient":"bottom","title":null,"labelOverlap":false,"values":[11,23.25,38.25,52.5,66,78.25,90.75,103.5,115.5,130.25,145.5,158.75,170.5,185.75],"labelExpr":"['27','Dec','7','13','18','22','15:00','2023','5','11','17','22','26','Feb'][indexof([11,23.25,38.25,52.5,66,78.25,90.75,103.5,115.5,130.25,145.5,158.75,170.5,185.75], datum.value)]","labelFontSize":7}},
  "x2":{"datum":190},
  "y":{"datum":20,"type":"quantitative","scale":{"domain":[-2.5,109.5],"nice":false,"zero":false},"axis":{"orient":"right","title":null,"values":[0,40,80],"format":".4f","labelOverlap":false}},
  "y2":{"datum":80}}},
{"data":{"values":[{"lv":20},{"lv":80}]},"mark":{"type":"rule","color":"#8f8f8f","strokeDash":[4,3],"strokeWidth":1},
 "encoding":{"x":{"datum":0,"type":"quantitative","axis":{"orient":"bottom","title":null,"labelOverlap":false,"values":[11,23.25,38.25,52.5,66,78.25,90.75,103.5,115.5,130.25,145.5,158.75,170.5,185.75],"labelExpr":"['27','Dec','7','13','18','22','15:00','2023','5','11','17','22','26','Feb'][indexof([11,23.25,38.25,52.5,66,78.25,90.75,103.5,115.5,130.25,145.5,158.75,170.5,185.75], datum.value)]","labelFontSize":7}},"x2":{"datum":190},
  "y":{"field":"lv","type":"quantitative","axis":{"orient":"right","title":null,"values":[0,40,80],"format":".4f","labelOverlap":false}}}},
{"data":{"name":"stoch"},"mark":{"type":"line","strokeWidth":1,"opacity":0.8},
 "encoding":{"x":{"field":"t","type":"quantitative","axis":{"orient":"bottom","title":null,"labelOverlap":false,"values":[11,23.25,38.25,52.5,66,78.25,90.75,103.5,115.5,130.25,145.5,158.75,170.5,185.75],"labelExpr":"['27','Dec','7','13','18','22','15:00','2023','5','11','17','22','26','Feb'][indexof([11,23.25,38.25,52.5,66,78.25,90.75,103.5,115.5,130.25,145.5,158.75,170.5,185.75], datum.value)]","labelFontSize":7}},
  "y":{"field":"v","type":"quantitative","axis":{"orient":"right","title":null,"values":[0,40,80],"format":".4f","labelOverlap":false}},
  "color":{"field":"s","type":"nominal","scale":{"domain":["K","D"],"range":["#3c3cff","#ff3b3b"]},
   "legend":{"orient":"none","legendX":12,"legendY":5,"title":"Stoch (14, 1, 3)","titleFontSize":8.3,"titleFontWeight":"normal","titleColor":"#222","titlePadding":0,"labelExpr":"''","symbolOpacity":0,"symbolSize":0,"symbolStrokeWidth":0,"padding":0,"rowPadding":0}}}},
{"data":{"values":[{"v":61.6784}]},
 "encoding":{"x":{"datum":193.875,"type":"quantitative","axis":{"orient":"bottom","title":null,"labelOverlap":false,"values":[11,23.25,38.25,52.5,66,78.25,90.75,103.5,115.5,130.25,145.5,158.75,170.5,185.75],"labelExpr":"['27','Dec','7','13','18','22','15:00','2023','5','11','17','22','26','Feb'][indexof([11,23.25,38.25,52.5,66,78.25,90.75,103.5,115.5,130.25,145.5,158.75,170.5,185.75], datum.value)]","labelFontSize":7}},
  "y":{"field":"v","type":"quantitative","axis":{"orient":"right","title":null,"values":[0,40,80],"format":".4f","labelOverlap":false}}},
 "layer":[
  {"mark":{"type":"point","shape":"M-1,-0.25L1,-0.25L1,0.25L-1,0.25Z","size":1089,"filled":true,"opacity":1,"strokeWidth":0,"color":"#ff1a1a","yOffset":-6}},
  {"mark":{"type":"text","fontSize":7.2,"fontWeight":"bold","align":"center","baseline":"middle","color":"#ffffff","yOffset":-6},"encoding":{"text":{"field":"v","type":"quantitative","format":".4f"}}}
 ]},
{"data":{"values":[{"v":54.8573}]},
 "encoding":{"x":{"datum":193.875,"type":"quantitative","axis":{"orient":"bottom","title":null,"labelOverlap":false,"values":[11,23.25,38.25,52.5,66,78.25,90.75,103.5,115.5,130.25,145.5,158.75,170.5,185.75],"labelExpr":"['27','Dec','7','13','18','22','15:00','2023','5','11','17','22','26','Feb'][indexof([11,23.25,38.25,52.5,66,78.25,90.75,103.5,115.5,130.25,145.5,158.75,170.5,185.75], datum.value)]","labelFontSize":7}},
  "y":{"field":"v","type":"quantitative","axis":{"orient":"right","title":null,"values":[0,40,80],"format":".4f","labelOverlap":false}}},
 "layer":[
  {"mark":{"type":"point","shape":"M-1,-0.25L1,-0.25L1,0.25L-1,0.25Z","size":1089,"filled":true,"opacity":1,"strokeWidth":0,"color":"#1a1aff","yOffset":1}},
  {"mark":{"type":"text","fontSize":7.2,"fontWeight":"bold","align":"center","baseline":"middle","color":"#ffffff","yOffset":1},"encoding":{"text":{"field":"v","type":"quantitative","format":".4f"}}}
 ]}
]
}
]
}
